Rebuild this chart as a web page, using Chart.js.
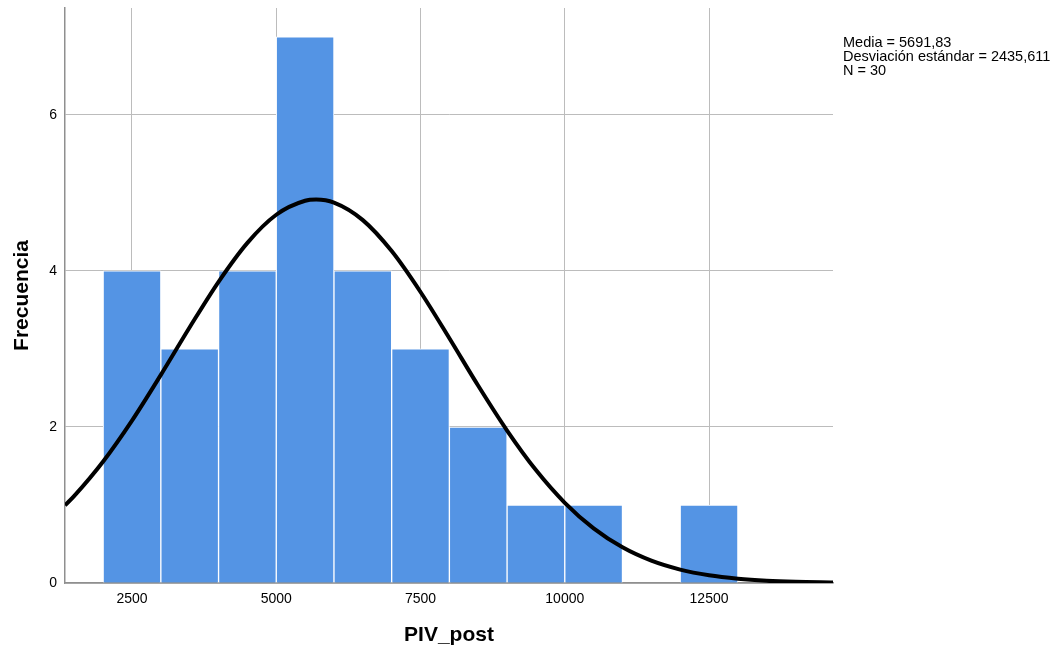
<!DOCTYPE html>
<html>
<head>
<meta charset="utf-8">
<script src="https://cdn.jsdelivr.net/npm/chart.js@4/dist/chart.umd.min.js"></script>
<style>
    html, body { margin: 0; padding: 0; background: #fff; }
    #wrap { width: 1054px; height: 653px; }
</style>
</head>
<body>
<div id="wrap"><canvas id="histChart"></canvas></div>
<script>
// histogram bins (centre of each 1000-wide bin) and counts
const binCenters = [2500, 3500, 4500, 5500, 6500, 7500, 8500, 9500, 10500, 11500, 12500];
const binCounts = [4, 3, 4, 7, 4, 3, 2, 1, 1, 0, 1];

// normal curve
const curveX = [1339, 1500, 2000, 2500, 3000, 3500, 4000, 4500, 5000, 5500, 5692, 6000, 6500, 7000, 7500, 8000, 8500, 9000, 9500, 10000, 10500, 11000, 11500, 12000, 12500, 13000, 13500, 14000, 14648];
const curveY = [0.995, 1.117, 1.558, 2.082, 2.668, 3.278, 3.861, 4.36, 4.72, 4.899, 4.914, 4.875, 4.651, 4.254, 3.73, 3.137, 2.528, 1.954, 1.447, 1.028, 0.7, 0.457, 0.286, 0.172, 0.099, 0.055, 0.029, 0.015, 0.006];

const xTicks = [2500, 5000, 7500, 10000, 12500];
const yTicks = [0, 2, 4, 6];

const statsLines = ["Media = 5691,83", "Desviación estándar = 2435,611", "N = 30"];

const FONT = "'Liberation Sans', Arial, sans-serif";

const statsText = {
    id: "statsText",
    afterDraw(chart) {
        const c = chart.ctx;
        c.save();
        c.fillStyle = "#000";
        c.font = "14.5px " + FONT;
        c.textBaseline = "middle";
        statsLines.forEach((t, i) => c.fillText(t, 843, 43 + i * 14));
        c.restore();
    },
};

new Chart(document.getElementById("histChart"), {
    data: {
        datasets: [
            {
                type: "line",
                data: curveX.map((x, i) => ({ x: x, y: curveY[i] })),
                borderColor: "#000",
                borderWidth: 4,
                pointRadius: 0,
                cubicInterpolationMode: "monotone",
                fill: false,
            },
            {
                type: "bar",
                data: binCenters.map((x, i) => ({ x: x, y: binCounts[i] })),
                backgroundColor: "#5494e4",
                borderColor: "#ffffff",
                borderWidth: 1,
                barPercentage: 1,
                categoryPercentage: 1,
            },
        ],
    },

    options: {
        responsive: true,
        maintainAspectRatio: false,
        animation: false,
        layout: {
            padding: { left: 0, right: 221, top: 8, bottom: 0 },
        },
        plugins: {
            legend: { display: false },
            tooltip: { enabled: false },
        },
        scales: {
            x: {
                type: "linear",
                offset: false,
                min: 1339,
                max: 14648,
                afterBuildTicks: (axis) => {
                    axis.ticks = xTicks.map((v) => ({ value: v }));
                },
                afterFit: (axis) => {
                    axis.height = 70;
                    axis.paddingLeft = 0;
                    axis.paddingRight = 0;
                },
                grid: {
                    color: "#bcbcbc",
                    drawTicks: false,
                    offset: false,
                },
                border: {
                    color: "#8f8f8f",
                    width: 1.5,
                },
                ticks: {
                    color: "#000",
                    padding: 8,
                    maxRotation: 0,
                    callback: (v) => String(v),
                    font: { family: FONT, size: 14 },
                },
                title: {
                    display: true,
                    text: "PIV_post",
                    color: "#000",
                    padding: { top: 0, bottom: 5 },
                    font: { family: FONT, size: 21, weight: "bold" },
                },
            },
            y: {
                min: 0,
                max: 7.37,
                afterBuildTicks: (axis) => {
                    axis.ticks = yTicks.map((v) => ({ value: v }));
                },
                afterFit: (axis) => {
                    axis.width = 65;
                    axis.paddingTop = 0;
                    axis.paddingBottom = 0;
                },
                grid: {
                    color: "#bcbcbc",
                    drawTicks: false,
                },
                border: {
                    color: "#8f8f8f",
                    width: 1.5,
                },
                ticks: {
                    color: "#000",
                    padding: 8,
                    font: { family: FONT, size: 14 },
                },
                title: {
                    display: true,
                    text: "Frecuencia",
                    color: "#000",
                    padding: { top: 10, bottom: 0 },
                    font: { family: FONT, size: 21, weight: "bold" },
                },
            },
        },
    },
    plugins: [statsText],
});
</script>
</body>
</html>
